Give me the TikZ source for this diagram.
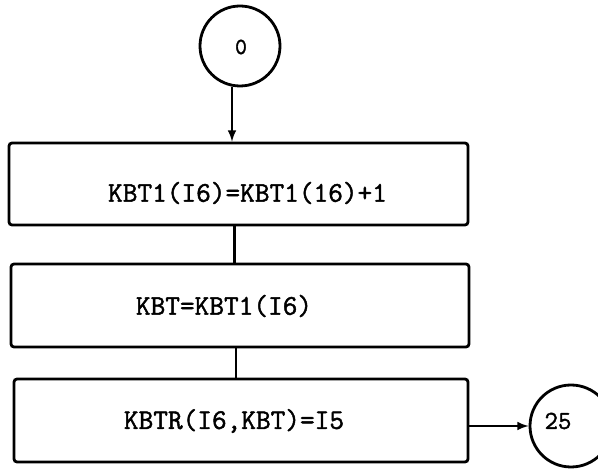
\documentclass[tikz,border=0pt]{standalone}
\usepackage{fontspec}
\newfontfamily\flowfont[RawFeature={embolden=1.6}]{Latin Modern Mono}
\tikzset{
	stepbox/.style={draw, line width=2.8pt, rounded corners=3pt, minimum width=458pt, minimum height=83pt},
	steptext/.style={font=\flowfont\fontsize{28.5}{32}\selectfont, inner sep=0pt},
	conn/.style={draw, circle, line width=2.8pt, inner sep=0pt},
	conntext/.style={font=\flowfont\fontsize{26}{30}\selectfont, inner sep=0pt},
}
\begin{document}
\begin{tikzpicture}[x=1pt, y=-1pt, line width=2.8pt]
	\useasboundingbox (0,0) rectangle (598,470);
	% connectors
	\node[conn, minimum size=80pt] (c0) at (240,46) {};
	\node[conntext, font=\flowfont\fontsize{23}{27}\selectfont] (t0) at (241,47) {0};
	\node[conn, minimum size=82pt] (c25) at (571,426) {};
	\node[conntext] (t25) at (558,421) {25};
	% boxes
	\node[stepbox, minimum width=459pt, minimum height=82pt] (inc) at (238.5,184) {};
	\node[steptext] (incT) at (247.5,193) {KBT1(I6)=KBT1(16)+1};
	\node[stepbox] (kbt) at (240,305.5) {};
	\node[steptext] (kbtT) at (224,306) {KBT=KBT1(I6)};
	\node[stepbox, minimum width=454pt] (kbtr) at (241,420.5) {};
	\node[steptext] (kbtrT) at (234,421) {KBTR(I6,KBT)=I5};
	% lines
	\draw[-latex] ([xshift=-8pt]c0.south) -- ([xshift=-8pt]c0.south |- inc.north);
	\draw ([xshift=-4pt]inc.south) -- ([xshift=-4pt]inc.south |- kbt.north);
	\draw ([xshift=-4pt]kbt.south) -- ([xshift=-4pt]kbt.south |- kbtr.north);
	\draw[-latex] (kbtr.east |- c25) -- (c25);
\end{tikzpicture}
\end{document}
